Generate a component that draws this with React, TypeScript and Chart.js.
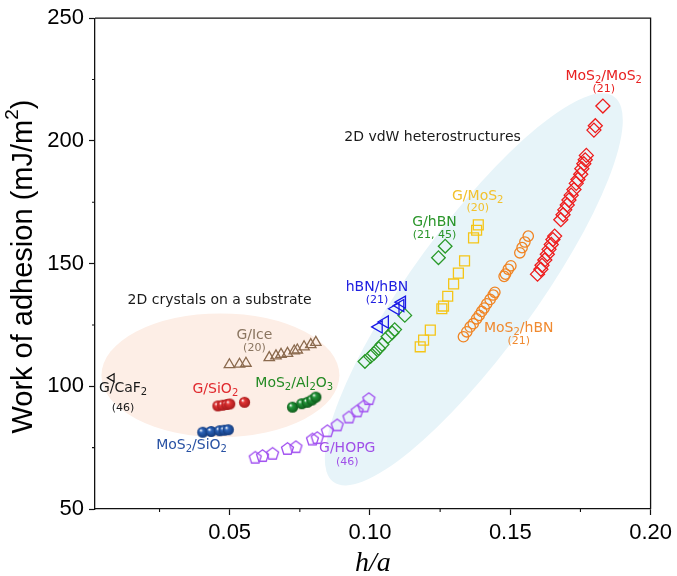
import React, { useEffect, useRef } from 'react';
import { Chart, registerables } from 'chart.js';

Chart.register(...registerables);

// ---------- axis ticks ----------
const xTicks = [0.05, 0.1, 0.15, 0.2];
const yTicks = [50, 100, 150, 200, 250];
const xMinorTicks = [0.025, 0.075, 0.125, 0.175];
const yMinorTicks = [75, 125, 175, 225];

// ---------- data (h/a, work of adhesion) ----------
const gCaF2X = [0.008];
const gCaF2Y = [103.5];

const gIceX = [0.0499, 0.0535, 0.0558, 0.0641, 0.0665, 0.0683, 0.0706, 0.073, 0.0741, 0.0765, 0.0789, 0.0807];
const gIceY = [108.8, 109.0, 109.4, 111.7, 112.4, 113.0, 113.4, 114.4, 114.8, 116.1, 117.0, 117.9];

const gSiO2X = [0.0458, 0.0475, 0.049, 0.05, 0.0553];
const gSiO2Y = [92.0, 92.3, 92.6, 92.8, 93.5];

const mos2SiO2X = [0.0404, 0.0434, 0.0464, 0.048, 0.0495];
const mos2SiO2Y = [81.3, 81.6, 81.9, 82.1, 82.3];

const mos2Al2O3X = [0.0724, 0.0757, 0.0777, 0.0793, 0.0807];
const mos2Al2O3Y = [91.5, 92.9, 93.5, 94.4, 95.6];

const gHOPGX = [0.0591, 0.0617, 0.0653, 0.0706, 0.0736, 0.0795, 0.0812, 0.0848, 0.0883, 0.0925, 0.0954, 0.0978, 0.0996];
const gHOPGY = [71.1, 71.8, 72.7, 74.7, 75.4, 78.5, 79.1, 81.9, 84.3, 87.5, 90.0, 92.0, 95.0];

const hBNhBNX = [0.1031, 0.1053, 0.1091, 0.1108, 0.1114];
const hBNhBNY = [124.2, 126.2, 131.6, 132.9, 134.3];

const gHBNX = [0.0982, 0.1002, 0.1014, 0.1031, 0.1043, 0.1064, 0.1079, 0.1088, 0.1124, 0.1244, 0.1268];
const gHBNY = [110.1, 112.1, 113.4, 115.4, 117.0, 120.2, 121.8, 123.1, 128.9, 152.4, 157.1];

const gMoS2X = [0.1179, 0.1191, 0.1215, 0.1256, 0.1262, 0.1277, 0.1298, 0.1315, 0.1337, 0.1369, 0.138, 0.1386];
const gMoS2Y = [116.1, 118.8, 122.9, 131.6, 132.7, 136.7, 141.7, 146.1, 151.1, 160.5, 163.6, 165.8];

const mos2HBNX = [0.1333, 0.1345, 0.1357, 0.1368, 0.138, 0.1389, 0.1398, 0.1407, 0.1416, 0.1428, 0.1439, 0.1445, 0.1478, 0.1483, 0.1493, 0.1502, 0.1534, 0.1542, 0.1552, 0.1564];
const mos2HBNY = [120.2, 122.2, 124.2, 125.5, 127.5, 128.9, 130.5, 131.9, 133.6, 135.4, 137.2, 138.3, 144.8, 145.7, 147.7, 149.1, 154.4, 156.5, 158.8, 161.2];

const mos2MoS2X = [0.1597, 0.1609, 0.1613, 0.1623, 0.1632, 0.1638, 0.1646, 0.1652, 0.1658, 0.168, 0.1688, 0.1694, 0.1703, 0.1709, 0.1717, 0.1727, 0.1735, 0.1741, 0.1751, 0.1755, 0.1762, 0.1767, 0.1771, 0.1798, 0.1803, 0.183];
const mos2MoS2Y = [145.7, 147.7, 149.3, 151.5, 153.8, 155.8, 157.8, 159.8, 161.2, 167.9, 169.9, 171.9, 173.9, 175.9, 177.9, 180.2, 182.7, 184.3, 186.4, 188.7, 190.7, 192.3, 194.1, 204.4, 206.2, 214.2];

// ---------- annotation config (data-space anchors) ----------
const annotations = [
  { text: '2D crystals on a substrate', x: 0.0464, y: 135.1, color: '#1a1a1a', size: 14 },
  { text: '2D vdW heterostructures', x: 0.1223, y: 201.5, color: '#1a1a1a', size: 14 },
  { text: 'G/Ice', x: 0.0588, y: 120.8, color: '#8a7560', size: 14 },
  { text: '(20)', x: 0.0588, y: 115.7, color: '#8a7560', size: 11 },
  { text: 'G/SiO_2', x: 0.0449, y: 98.7, color: '#e0282d', size: 14 },
  { text: 'MoS_2/Al_2O_3', x: 0.073, y: 101.3, color: '#248a24', size: 14 },
  { text: 'MoS_2/SiO_2', x: 0.0364, y: 76.0, color: '#2851a3', size: 14 },
  { text: 'G/CaF_2', x: 0.012, y: 99.1, color: '#1a1a1a', size: 14 },
  { text: '(46)', x: 0.012, y: 91.3, color: '#1a1a1a', size: 11 },
  { text: 'G/HOPG', x: 0.0919, y: 74.7, color: '#a050e8', size: 14 },
  { text: '(46)', x: 0.0919, y: 69.0, color: '#a050e8', size: 11 },
  { text: 'hBN/hBN', x: 0.1025, y: 140.3, color: '#2020e0', size: 14 },
  { text: '(21)', x: 0.1025, y: 135.0, color: '#2020e0', size: 11 },
  { text: 'G/hBN', x: 0.123, y: 166.8, color: '#2a952a', size: 14 },
  { text: '(21, 45)', x: 0.123, y: 161.4, color: '#2a952a', size: 11 },
  { text: 'G/MoS_2', x: 0.1384, y: 177.3, color: '#f2c12e', size: 14 },
  { text: '(20)', x: 0.1384, y: 172.6, color: '#f2c12e', size: 11 },
  { text: 'MoS_2/hBN', x: 0.153, y: 123.8, color: '#f08a30', size: 14 },
  { text: '(21)', x: 0.153, y: 118.4, color: '#f08a30', size: 11 },
  { text: 'MoS_2/MoS_2', x: 0.1833, y: 226.3, color: '#e82020', size: 14 },
  { text: '(21)', x: 0.1833, y: 221.0, color: '#e82020', size: 11 },
];

const LABEL_FONT = '"DejaVu Sans", Verdana, sans-serif';
const AXIS_FONT = '"Liberation Sans", Arial, sans-serif';

function pts(xs: number[], ys: number[]) {
  return xs.map((x, i) => ({ x, y: ys[i] }));
}

function makeSphere(base: string, dark: string, r: number) {
  const size = Math.ceil(2 * r) + 3;
  const c = document.createElement('canvas');
  c.width = size;
  c.height = size;
  const ctx = c.getContext('2d')!;
  const cx = size / 2;
  const cy = size / 2;
  const g = ctx.createRadialGradient(cx - r * 0.38, cy - r * 0.38, r * 0.05, cx, cy, r);
  g.addColorStop(0, '#ffffff');
  g.addColorStop(0.3, base);
  g.addColorStop(1, dark);
  ctx.fillStyle = g;
  ctx.beginPath();
  ctx.arc(cx, cy, r, 0, Math.PI * 2);
  ctx.fill();
  return c;
}

function makePentagon(color: string, r: number, lw: number) {
  const size = Math.ceil(2 * r + lw * 2) + 3;
  const c = document.createElement('canvas');
  c.width = size;
  c.height = size;
  const ctx = c.getContext('2d')!;
  ctx.strokeStyle = color;
  ctx.lineWidth = lw;
  ctx.lineJoin = 'miter';
  ctx.beginPath();
  for (let i = 0; i < 5; i++) {
    const a = -Math.PI / 2 + (i * 2 * Math.PI) / 5;
    const px = size / 2 + r * Math.cos(a);
    const py = size / 2 + r * Math.sin(a) + r * 0.1;
    if (i === 0) ctx.moveTo(px, py);
    else ctx.lineTo(px, py);
  }
  ctx.closePath();
  ctx.stroke();
  return c;
}

function drawRich(ctx: CanvasRenderingContext2D, text: string, x: number, y: number, size: number, color: string) {
  const segs: { t: string; sub: boolean }[] = [];
  for (let i = 0; i < text.length; i++) {
    if (text[i] === '_' && i + 1 < text.length) {
      segs.push({ t: text[i + 1], sub: true });
      i++;
    } else {
      segs.push({ t: text[i], sub: false });
    }
  }
  const subSize = Math.round(size * 0.72);
  let total = 0;
  const widths = segs.map((s) => {
    ctx.font = `${s.sub ? subSize : size}px ${LABEL_FONT}`;
    const w = ctx.measureText(s.t).width;
    total += w;
    return w;
  });
  let cx = x - total / 2;
  ctx.fillStyle = color;
  ctx.textBaseline = 'middle';
  ctx.textAlign = 'left';
  segs.forEach((s, i) => {
    ctx.font = `${s.sub ? subSize : size}px ${LABEL_FONT}`;
    ctx.fillText(s.t, cx, s.sub ? y + size * 0.3 : y);
    cx += widths[i];
  });
}

function drawYTitle(ctx: CanvasRenderingContext2D, cx: number, cy: number) {
  const size = 29;
  const supSize = 19;
  const parts = [
    { t: 'Work of adhesion (mJ/m', sup: false },
    { t: '2', sup: true },
    { t: ')', sup: false },
  ];
  ctx.save();
  ctx.translate(cx, cy);
  ctx.rotate(-Math.PI / 2);
  ctx.fillStyle = '#000';
  ctx.textBaseline = 'middle';
  ctx.textAlign = 'left';
  let total = 0;
  const widths = parts.map((p) => {
    ctx.font = `${p.sup ? supSize : size}px ${AXIS_FONT}`;
    const w = ctx.measureText(p.t).width;
    total += w;
    return w;
  });
  let x = -total / 2;
  parts.forEach((p, i) => {
    ctx.font = `${p.sup ? supSize : size}px ${AXIS_FONT}`;
    ctx.fillText(p.t, x, p.sup ? -size * 0.38 : 0);
    x += widths[i];
  });
  ctx.restore();
}

const decorPlugin = {
  id: 'decor',
  beforeDatasetsDraw(chart: any) {
    const { ctx, chartArea, scales } = chart;
    const xs = scales.x;
    const ys = scales.y;
    ctx.save();
    ctx.beginPath();
    ctx.rect(chartArea.left, chartArea.top, chartArea.right - chartArea.left, chartArea.bottom - chartArea.top);
    ctx.clip();
    // substrate ellipse
    const pcx = xs.getPixelForValue(0.0467);
    const pcy = ys.getPixelForValue(104.5);
    const prx = Math.abs(xs.getPixelForValue(0.0467 + 0.0424) - pcx);
    const pry = Math.abs(ys.getPixelForValue(104.5 + 25.2) - pcy);
    ctx.fillStyle = '#fdeee6';
    ctx.beginPath();
    ctx.ellipse(pcx, pcy, prx, pry, 0, 0, Math.PI * 2);
    ctx.fill();
    // heterostructure ellipse (major axis endpoints in data space)
    const ax = xs.getPixelForValue(0.087);
    const ay = ys.getPixelForValue(61);
    const bx = xs.getPixelForValue(0.187);
    const by = ys.getPixelForValue(218);
    const ecx = (ax + bx) / 2;
    const ecy = (ay + by) / 2;
    const semiMajor = Math.hypot(bx - ax, by - ay) / 2;
    const ang = Math.atan2(by - ay, bx - ax);
    ctx.fillStyle = '#e7f4f9';
    ctx.beginPath();
    ctx.ellipse(ecx, ecy, semiMajor, 62, ang, 0, Math.PI * 2);
    ctx.fill();
    ctx.restore();
  },
  afterDatasetsDraw(chart: any) {
    const { ctx, chartArea, scales } = chart;
    const xs = scales.x;
    const ys = scales.y;
    ctx.save();
    annotations.forEach((a) => {
      drawRich(ctx, a.text, xs.getPixelForValue(a.x), ys.getPixelForValue(a.y), a.size, a.color);
    });
    // frame (top & right)
    ctx.strokeStyle = '#111';
    ctx.lineWidth = 1.3;
    ctx.beginPath();
    ctx.moveTo(chartArea.left, chartArea.top);
    ctx.lineTo(chartArea.right, chartArea.top);
    ctx.lineTo(chartArea.right, chartArea.bottom);
    ctx.stroke();
    // minor ticks
    ctx.lineWidth = 1.1;
    ctx.beginPath();
    xMinorTicks.forEach((v) => {
      const px = xs.getPixelForValue(v);
      ctx.moveTo(px, chartArea.bottom);
      ctx.lineTo(px, chartArea.bottom + 3);
    });
    yMinorTicks.forEach((v) => {
      const py = ys.getPixelForValue(v);
      ctx.moveTo(chartArea.left, py);
      ctx.lineTo(chartArea.left - 3, py);
    });
    ctx.stroke();
    ctx.restore();
    // y-axis title with a true superscript
    drawYTitle(ctx, 24, (chartArea.top + chartArea.bottom) / 2 + 3);
  },
};

export default function App() {
  const canvasRef = useRef<HTMLCanvasElement | null>(null);

  useEffect(() => {
    const canvas = canvasRef.current;
    if (!canvas) return;

    const sphereRed = makeSphere('#e23434', '#a51a1c', 5.6);
    const sphereBlue = makeSphere('#2a62b8', '#13397a', 5.6);
    const sphereGreen = makeSphere('#23973a', '#0e5a1a', 5.6);
    const pentagon = makePentagon('#a04ff0', 6.3, 1.3);

    const datasets: any[] = [
      {
        label: 'G/CaF2', data: pts(gCaF2X, gCaF2Y), pointStyle: 'triangle', rotation: -90,
        pointRadius: 4.5, borderColor: '#111', backgroundColor: 'rgba(0,0,0,0)', borderWidth: 1.2,
      },
      {
        label: 'G/Ice', data: pts(gIceX, gIceY), pointStyle: 'triangle',
        pointRadius: 6, borderColor: '#8b6a4e', backgroundColor: 'rgba(0,0,0,0)', borderWidth: 1.3,
      },
      { label: 'G/SiO2', data: pts(gSiO2X, gSiO2Y), pointStyle: sphereRed, pointRadius: 5.6 },
      { label: 'MoS2/SiO2', data: pts(mos2SiO2X, mos2SiO2Y), pointStyle: sphereBlue, pointRadius: 5.6 },
      { label: 'MoS2/Al2O3', data: pts(mos2Al2O3X, mos2Al2O3Y), pointStyle: sphereGreen, pointRadius: 5.6 },
      { label: 'G/HOPG', data: pts(gHOPGX, gHOPGY), pointStyle: pentagon, pointRadius: 6 },
      {
        label: 'hBN/hBN', data: pts(hBNhBNX, hBNhBNY), pointStyle: 'triangle', rotation: -90,
        pointRadius: 7, borderColor: '#1a1ae6', backgroundColor: 'rgba(0,0,0,0)', borderWidth: 1.3,
      },
      {
        label: 'G/hBN', data: pts(gHBNX, gHBNY), pointStyle: 'rectRot',
        pointRadius: 6.8, borderColor: '#2a9a2a', backgroundColor: 'rgba(0,0,0,0)', borderWidth: 1.3,
      },
      {
        label: 'G/MoS2', data: pts(gMoS2X, gMoS2Y), pointStyle: 'rect',
        pointRadius: 7, borderColor: '#f5c518', backgroundColor: 'rgba(0,0,0,0)', borderWidth: 1.3,
      },
      {
        label: 'MoS2/hBN', data: pts(mos2HBNX, mos2HBNY), pointStyle: 'circle',
        pointRadius: 5.2, borderColor: '#f08424', backgroundColor: 'rgba(0,0,0,0)', borderWidth: 1.3,
      },
      {
        label: 'MoS2/MoS2', data: pts(mos2MoS2X, mos2MoS2Y), pointStyle: 'rectRot',
        pointRadius: 7, borderColor: '#ee1c1c', backgroundColor: 'rgba(0,0,0,0)', borderWidth: 1.3,
      },
    ];

    const tickFont = { family: AXIS_FONT, size: 22 };

    const chart = new Chart(canvas, {
      type: 'scatter',
      data: { datasets },
      options: {
        responsive: false,
        maintainAspectRatio: false,
        animation: false,
        layout: { padding: { top: 13, right: 24, left: 0, bottom: 0 } },
        plugins: { legend: { display: false }, tooltip: { enabled: false } },
        scales: {
          x: {
            type: 'linear',
            min: 0.002,
            max: 0.2,
            afterBuildTicks: (s: any) => { s.ticks = xTicks.map((v) => ({ value: v })); },
            afterFit: (s: any) => { s.height = 67; },
            ticks: {
              callback: (v: any) => Number(v).toFixed(2),
              font: tickFont, color: '#000', padding: 5, maxRotation: 0, autoSkip: false,
            },
            grid: { drawOnChartArea: false, drawTicks: true, tickLength: 6, tickColor: '#111', tickWidth: 1.2 },
            border: { color: '#111', width: 1.3 },
            title: {
              display: true, text: 'h/a', color: '#000',
              font: { family: '"Liberation Serif", "Times New Roman", serif', style: 'italic', size: 28, lineHeight: 0.8 },
              padding: { top: 0, bottom: 1 },
            },
          },
          y: {
            type: 'linear',
            min: 50,
            max: 250,
            afterBuildTicks: (s: any) => { s.ticks = yTicks.map((v) => ({ value: v })); },
            afterFit: (s: any) => { s.width = 95; },
            ticks: { callback: (v: any) => String(v), font: tickFont, color: '#000', padding: 5, autoSkip: false },
            grid: { drawOnChartArea: false, drawTicks: true, tickLength: 6, tickColor: '#111', tickWidth: 1.2 },
            border: { color: '#111', width: 1.3 },
            title: { display: false },
          },
        },
      },
      plugins: [decorPlugin],
    } as any);

    return () => chart.destroy();
  }, []);

  return (
    <div style={{ position: 'fixed', left: 0, top: 0, width: 677, height: 576, background: '#fff' }}>
      <canvas ref={canvasRef} width={677} height={576} style={{ display: 'block', width: 677, height: 576 }} />
    </div>
  );
}
